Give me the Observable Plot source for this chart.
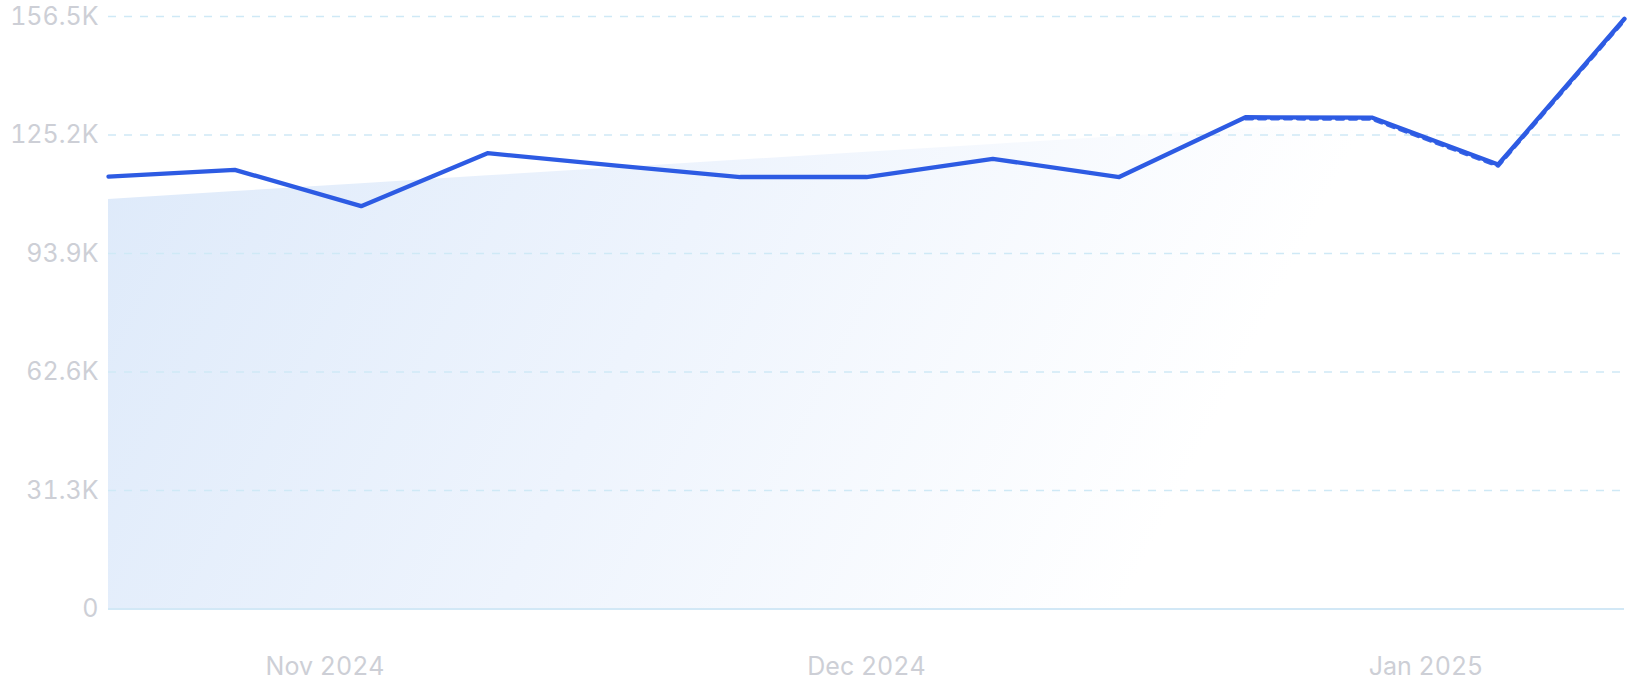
<!DOCTYPE html>
<html>
<head>
<meta charset="utf-8">
<script src="https://cdn.jsdelivr.net/npm/d3@7"></script>
<script src="https://cdn.jsdelivr.net/npm/@observablehq/plot@0.6"></script>
<style>
  html, body { margin: 0; padding: 0; background: #ffffff; }
  #chart { width: 1631px; height: 700px; overflow: hidden; }
</style>
</head>
<body>
<div id="chart"></div>
<script>
// Weekly values (Sundays)
const weeks = [
  "2024-10-20", "2024-10-27", "2024-11-03", "2024-11-10", "2024-11-17",
  "2024-11-24", "2024-12-01", "2024-12-08", "2024-12-15", "2024-12-22",
  "2024-12-29", "2025-01-05", "2025-01-12"
];
const values = [
  114200, 116000, 106400, 120400, 117200,
  114100, 114100, 118900, 114100, 129900,
  129800, 117400, 155900
];
const yTicks = [0, 31300, 62600, 93900, 125200, 156500];
const yTickLabels = ["0", "31.3K", "62.6K", "93.9K", "125.2K", "156.5K"];
const xTicks = ["2024-11-01", "2024-12-01", "2025-01-01"];
const xTickLabels = ["Nov 2024", "Dec 2024", "Jan 2025"];

const data = weeks.map((w, i) => ({date: new Date(w + "T00:00:00Z"), value: values[i]}));

// Linear regression trend of the series (drawn as the shaded area)
const xs = data.map((d, i) => i);
const mx = d3.mean(xs), my = d3.mean(values);
const slope = d3.sum(xs, (x, i) => (x - mx) * (values[i] - my)) / d3.sum(xs, x => (x - mx) ** 2);
const intercept = my - slope * mx;
const trend = data.map((d, i) => ({date: d.date, value: intercept + slope * i}));

const dashedPart = data.slice(9);

const gradientDefs = () => {
  const defs = d3.create("svg:defs");
  const g = defs.append("linearGradient")
    .attr("id", "trendGrad")
    .attr("gradientUnits", "userSpaceOnUse")
    .attr("x1", 108).attr("y1", 150)
    .attr("x2", 1100).attr("y2", 650);
  g.append("stop").attr("offset", "0").attr("stop-color", "#deeafa");
  g.append("stop").attr("offset", "0.5").attr("stop-color", "#eef4fd");
  g.append("stop").attr("offset", "1").attr("stop-color", "#ffffff");
  return defs.node();
};

const tickFont = "Inter, 'Noto Sans', sans-serif";

const chart = Plot.plot({
  width: 1631,
  height: 700,
  marginLeft: 108,
  marginRight: 7,
  marginTop: 16,
  marginBottom: 91.5,
  style: {fontFamily: tickFont, background: "#ffffff"},
  x: {
    type: "utc",
    domain: [new Date("2024-10-20T00:00:00Z"), new Date("2025-01-12T00:00:00Z")]
  },
  y: {domain: [0, 156500]},
  marks: [
    gradientDefs,
    Plot.areaY(trend, {x: "date", y: "value", fill: "url(#trendGrad)"}),
    Plot.ruleY(yTicks.slice(1), {stroke: "#cfe9f6", strokeWidth: 1.5, strokeDasharray: "8,8"}),
    Plot.ruleY([0], {stroke: "#d2e8f6", strokeWidth: 2}),
    Plot.axisY(yTicks, {
      tickSize: 0, tickPadding: 10,
      tickFormat: (d) => yTickLabels[yTicks.indexOf(d)],
      fontSize: 25, fill: "#cdcfd6", fontWeight: 400, label: null
    }),
    Plot.axisX(xTicks.map(d => new Date(d + "T00:00:00Z")), {
      tickSize: 0, tickPadding: 48,
      tickFormat: (d) => xTickLabels[xTicks.indexOf(d.toISOString().slice(0, 10))],
      fontSize: 25, fill: "#cdcfd6", fontWeight: 400, label: null
    }),
    Plot.line(dashedPart, {x: "date", y: "value", stroke: "#3a66e6", strokeWidth: 3.5, strokeDasharray: "7,6", dy: 1.5}),
    Plot.line(data, {x: "date", y: "value", stroke: "#2d5be3", strokeWidth: 4.3, strokeLinejoin: "round", strokeLinecap: "round"})
  ]
});

document.getElementById("chart").appendChild(chart);
</script>
</body>
</html>
